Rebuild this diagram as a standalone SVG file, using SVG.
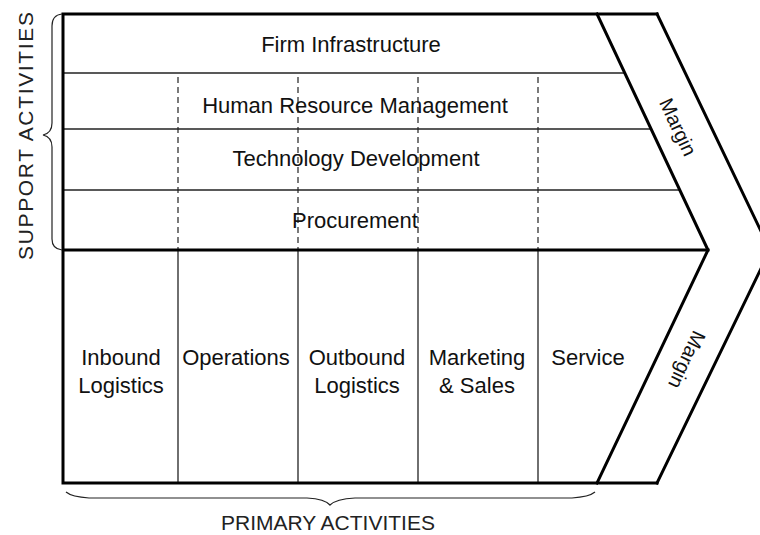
<svg xmlns="http://www.w3.org/2000/svg" width="760" height="535" viewBox="0 0 760 535">
  <style>
    .thick { fill: none; stroke: #000; stroke-width: 3; stroke-linejoin: miter; stroke-linecap: square; }
    .thin { fill: none; stroke: #222; stroke-width: 1.3; }
    .dash { fill: none; stroke: #222; stroke-width: 1.2; stroke-dasharray: 6 4; }
    .brace { fill: none; stroke: #222; stroke-width: 1.2; }
    .lbl { font-family: "Liberation Sans", Arial, sans-serif; font-size: 22px; fill: #111; text-anchor: middle; }
    .side { font-family: "Liberation Sans", Arial, sans-serif; font-size: 21px; fill: #222; text-anchor: middle; }
    .margin { font-family: "Liberation Sans", Arial, sans-serif; font-size: 20px; fill: #111; text-anchor: middle; }
  </style>
  <rect x="0" y="0" width="760" height="535" fill="#fff"/>

  <g id="connectors">
    <!-- support row separators -->
    <line class="thin" x1="63" y1="73" x2="624.7" y2="73"/>
    <line class="thin" x1="63" y1="129" x2="651" y2="129"/>
    <line class="thin" x1="63" y1="190" x2="679.7" y2="190"/>
    <!-- dashed column lines in support area -->
    <line class="dash" x1="178" y1="77" x2="178" y2="250"/>
    <line class="dash" x1="298" y1="77" x2="298" y2="250"/>
    <line class="dash" x1="418" y1="77" x2="418" y2="250"/>
    <line class="dash" x1="538" y1="77" x2="538" y2="250"/>
    <!-- solid column lines in primary area -->
    <line class="thin" x1="178" y1="250" x2="178" y2="483"/>
    <line class="thin" x1="298" y1="250" x2="298" y2="483"/>
    <line class="thin" x1="418" y1="250" x2="418" y2="483"/>
    <line class="thin" x1="538" y1="250" x2="538" y2="483"/>
    <!-- main frame -->
    <path class="thick" d="M63,14 L657,14 M63,14 L63,483 L657,483 M63,250 L708,250"/>
    <polyline class="thick" points="597,14 708,250 597,483"/>
    <polyline class="thick" points="657,14 770,250 657,483"/>
  </g>

  <g id="firm-infrastructure">
    <text class="lbl" x="351" y="52">Firm Infrastructure</text>
  </g>
  <g id="human-resource-management">
    <text class="lbl" x="355" y="113">Human Resource Management</text>
  </g>
  <g id="technology-development">
    <text class="lbl" x="356" y="166">Technology Development</text>
  </g>
  <g id="procurement">
    <text class="lbl" x="355" y="228">Procurement</text>
  </g>

  <g id="inbound-logistics">
    <text class="lbl" x="121" y="365">Inbound</text>
    <text class="lbl" x="121" y="393">Logistics</text>
  </g>
  <g id="operations">
    <text class="lbl" x="236" y="365">Operations</text>
  </g>
  <g id="outbound-logistics">
    <text class="lbl" x="357" y="365">Outbound</text>
    <text class="lbl" x="357" y="393">Logistics</text>
  </g>
  <g id="marketing-sales">
    <text class="lbl" x="477" y="365">Marketing</text>
    <text class="lbl" x="477" y="393">&amp; Sales</text>
  </g>
  <g id="service">
    <text class="lbl" x="588" y="365">Service</text>
  </g>

  <g id="margin-top">
    <text class="margin" transform="translate(678,127) rotate(64.8)" y="7">Margin</text>
  </g>
  <g id="margin-bottom">
    <text class="margin" transform="translate(687,360) rotate(115.2)" y="7">Margin</text>
  </g>

  <g id="support-activities">
    <path class="brace" d="M62,14 Q52,15 52,26 L52,123 Q52,133 43,135 Q52,137 52,147 L52,239 Q52,249 62,250"/>
    <text class="side" transform="translate(33,136) rotate(-90)" textLength="248" lengthAdjust="spacing">SUPPORT ACTIVITIES</text>
  </g>

  <g id="primary-activities">
    <path class="brace" d="M66,492 Q72,497 89,498 L307,498 Q325,499 330,505 Q336,499 355,498 L572,498 Q589,497 595,492"/>
    <text class="side" x="328" y="530">PRIMARY ACTIVITIES</text>
  </g>
</svg>
